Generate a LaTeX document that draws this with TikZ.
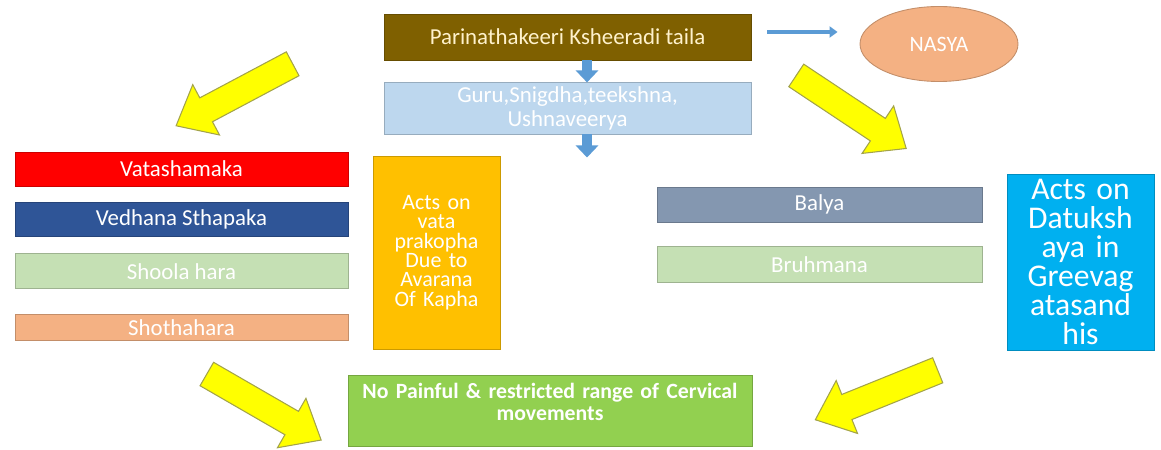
\documentclass[tikz,border=0pt]{standalone}
\usepackage{fontspec}
\setmainfont{Carlito}
\usepackage{tikz}
\usetikzlibrary{arrows.meta,positioning,shapes.geometric,shapes.arrows}
\definecolor{oilbrown}{HTML}{7F6000}
\definecolor{cream}{HTML}{FFF2CC}
\definecolor{paleblue}{HTML}{BDD7EE}
\definecolor{arrowblue}{HTML}{5B9BD5}
\definecolor{peach}{HTML}{F4B183}
\definecolor{vred}{HTML}{FF0000}
\definecolor{deepblue}{HTML}{2F5597}
\definecolor{palegreen}{HTML}{C5E0B4}
\definecolor{amber}{HTML}{FFC000}
\definecolor{slate}{HTML}{8497B0}
\definecolor{skyblue}{HTML}{00B0F0}
\definecolor{leaf}{HTML}{92D050}
\definecolor{yel}{HTML}{FFFF00}
\definecolor{yedge}{HTML}{A3A34A}
\tikzset{
  box/.style={draw=#1!80!black,fill=#1,line width=0.5pt,inner sep=2pt,align=center,text=white,font=\fontsize{13}{15}\selectfont},
  bar/.style={box=#1,minimum width=6.66cm,minimum height=0.68cm},
  arrow/.style={-{Triangle[length=0.24cm,width=0.44cm]},line width=0.2cm,draw=arrowblue},
  thinarrow/.style={-{Triangle[length=0.16cm,width=0.22cm]},line width=0.08cm,draw=arrowblue},
  yarrow/.style={single arrow,draw=yedge,fill=yel,line width=0.6pt,minimum height=2.64cm,single arrow head extend=0.3cm,single arrow tip angle=80,inner xsep=0pt,inner ysep=0.26cm,rotate=#1},
}
\begin{document}
\begin{tikzpicture}[node distance=5mm]
    \useasboundingbox (0,0) rectangle (23.22,8.98);
    \node[box=oilbrown,text=cream,minimum width=7.34cm,minimum height=0.92cm] (taila) at (11.35,8.24) {Parinathakeeri Ksheeradi taila};
    \node[box=paleblue,minimum width=7.34cm,minimum height=0.94cm,font=\fontsize{13}{14}\selectfont,below=0.44cm of taila] (guna) {Guru,Snigdha,teekshna,\\Ushnaveerya};
    \node[ellipse,box=peach,minimum width=3.16cm,minimum height=1.5cm,font=\fontsize{12.5}{14}\selectfont] (nasya) at (18.78,8.10) {NASYA};
    \coordinate[below=0.46cm of guna.south,xshift=0.39cm] (gunaout);
    \draw[arrow] ([xshift=0.39cm]taila.south) -- ([xshift=0.39cm]guna.north);
    \draw[arrow] ([xshift=0.39cm]guna.south) -- (gunaout);
    \draw[thinarrow] ([xshift=0.32cm,yshift=0.1cm]taila.east) -- ([xshift=-0.44cm,yshift=0.1cm]taila.east -| nasya.west);
    % left column
    \node[bar=vred] (vata) at (3.63,5.6) {Vatashamaka};
    \node[bar=deepblue,below=0.32cm of vata] (vedhana) {Vedhana Sthapaka};
    \node[bar=palegreen,minimum height=0.7cm,below=0.32cm of vedhana] (shoola) {Shoola hara};
    \node[bar=peach,minimum height=0.52cm,below=0.5cm of shoola] (shotha) {Shothahara};
    \node[box=amber,minimum width=2.54cm,minimum height=3.86cm,text width=2.4cm,font=\fontsize{12.5}{11}\selectfont] (kapha) at (8.73,3.93) {Acts on\\vata\\prakopha\\Due to\\Avarana\\Of Kapha};
    % right column
    \node[bar=slate,minimum width=6.5cm,minimum height=0.7cm] (balya) at (16.39,4.89) {Balya};
    \node[bar=palegreen,minimum width=6.5cm,minimum height=0.72cm,below=0.48cm of balya] (bruhmana) {Bruhmana};
    \node[box=skyblue,minimum width=2.9cm,minimum height=3.52cm,text width=2.8cm,font=\fontsize{18}{16.5}\selectfont] (dhatu) at (21.61,3.74) {Acts on\\Datuksh\\aya in\\Greevag\\atasand\\his};
    % result
    \node[box=leaf,minimum width=8.08cm,minimum height=1.42cm,text width=7.9cm,font=\fontsize{12.4}{12.6}\selectfont\bfseries] (result) at (11.0,0.77) {No Painful \& restricted range of Cervical\\movements\\[-0.08cm]~};
    % yellow arrows
    \node[yarrow=208] (toleft) at (4.83,7.16) {};
    \node[yarrow=-33.6] (toright) at (16.89,6.83) {};
    \node[yarrow=-30] (fromleft) at (5.14,0.92) {};
    \node[yarrow=202] (fromright) at (17.68,1.14) {};
\end{tikzpicture}
\end{document}
